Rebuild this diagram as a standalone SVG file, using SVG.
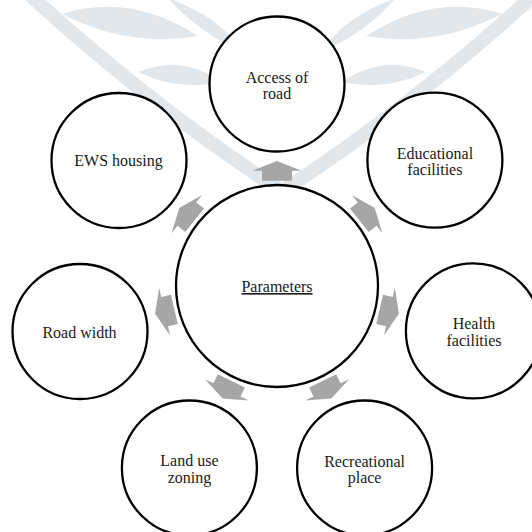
<svg xmlns="http://www.w3.org/2000/svg" xmlns:xlink="http://www.w3.org/1999/xlink" width="532" height="532" viewBox="0 0 532 532">
<style>
.node circle{fill:#ffffff;stroke:#000000;stroke-width:2.3}
.node text{font-family:"Liberation Serif","Times New Roman",serif;font-size:16px;fill:#1a1a1a;text-anchor:middle}
.arrow{fill:#a6a6a6}
.wm{fill:#e1e7eb}
.wmstem{fill:none;stroke:#e1e7eb;stroke-width:14;stroke-linecap:round}
</style>
<defs>
<path id="arr" d="M0 -125 L24.5 -115.3 L15 -115.3 L15 -105.3 L-15 -105.3 L-15 -115.3 L-24.5 -115.3 Z"/>
<g id="wmhalf">
<path class="wmstem" d="M30 -5 Q150 105 280 190"/>
<path class="wm" d="M62 14 Q130 -8 198 36 Q128 48 62 14 Z"/>
<path class="wm" d="M138 72 Q182 54 222 82 Q180 92 138 72 Z"/>
<path class="wm" d="M168 -2 Q222 18 240 50 Q200 34 168 -2 Z"/>
</g>
</defs>
<rect width="532" height="532" fill="#ffffff"/>
<g id="watermark">
<use xlink:href="#wmhalf"/>
<use xlink:href="#wmhalf" transform="translate(564 0) scale(-1 1)"/>
</g>
<g id="connectors" class="arrow">
<use xlink:href="#arr" transform="translate(277 286)"/>
<use xlink:href="#arr" transform="translate(277 286) rotate(51.4286)"/>
<use xlink:href="#arr" transform="translate(277 286) rotate(102.857)"/>
<use xlink:href="#arr" transform="translate(277 286) rotate(154.286)"/>
<use xlink:href="#arr" transform="translate(277 286) rotate(205.714)"/>
<use xlink:href="#arr" transform="translate(277 286) rotate(257.143)"/>
<use xlink:href="#arr" transform="translate(277 286) rotate(308.571)"/>
</g>
<g id="parameters" class="node">
<circle cx="277" cy="286" r="101"/>
<text x="277" y="292" text-decoration="underline">Parameters</text>
</g>
<g id="access-of-road" class="node">
<circle cx="277" cy="84" r="67.5"/>
<text x="277" y="82.5">Access of</text>
<text x="277" y="98.5">road</text>
</g>
<g id="educational-facilities" class="node">
<circle cx="434.9" cy="160.1" r="67.5"/>
<text x="434.9" y="158.5">Educational</text>
<text x="434.9" y="174.5">facilities</text>
</g>
<g id="health-facilities" class="node">
<circle cx="473.4" cy="330.9" r="67.5"/>
<text x="474" y="329.3">Health</text>
<text x="474" y="346">facilities</text>
</g>
<g id="recreational-place" class="node">
<circle cx="364.6" cy="468" r="67.5"/>
<text x="364.6" y="466.5">Recreational</text>
<text x="364.6" y="482.7">place</text>
</g>
<g id="land-use-zoning" class="node">
<circle cx="189.4" cy="468" r="67.5"/>
<text x="189.4" y="466">Land use</text>
<text x="189.4" y="482.5">zoning</text>
</g>
<g id="road-width" class="node">
<circle cx="80" cy="331.5" r="67.5"/>
<text x="79.5" y="337.5">Road width</text>
</g>
<g id="ews-housing" class="node">
<circle cx="119" cy="160.5" r="67.5"/>
<text x="118.5" y="166">EWS housing</text>
</g>
</svg>
